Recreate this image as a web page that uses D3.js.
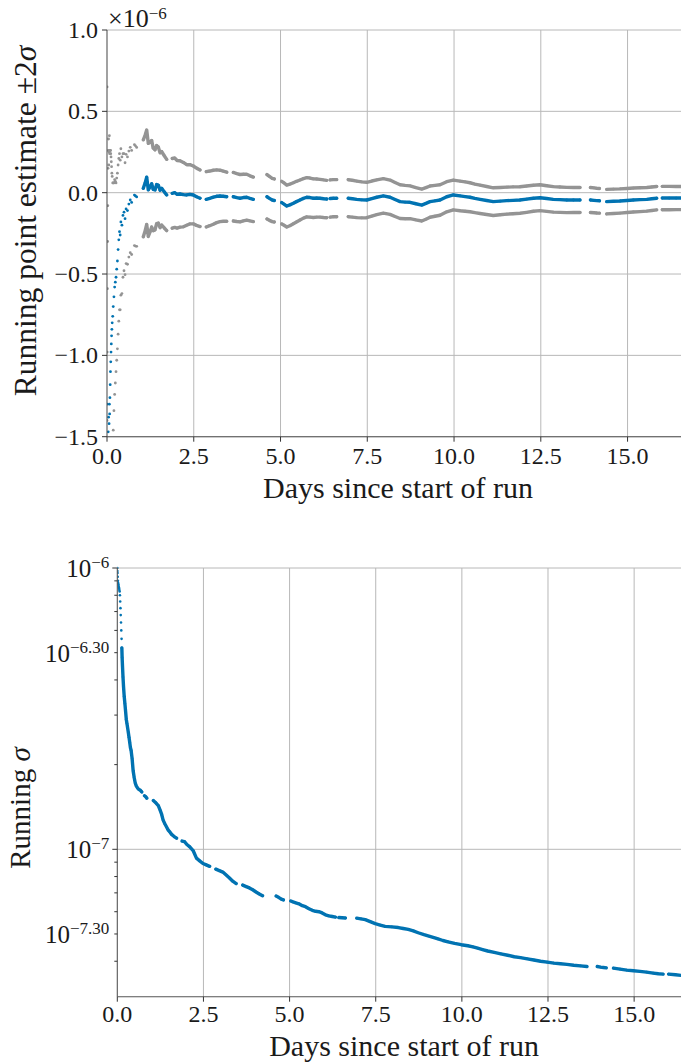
<!DOCTYPE html>
<html>
<head>
<meta charset="utf-8">
<script src="https://cdn.jsdelivr.net/npm/d3@7"></script>
<style>
  body { margin: 0; background: #fff; }
  svg { display: block; }
  text { font-family: "Liberation Serif", "DejaVu Serif", serif; fill: #1a1a1a; }
</style>
</head>
<body>
<svg id="fig" width="681" height="1064"></svg>
<script>
// Running estimate (units of 1e-6) and its running sigma (units of 1e-6)
// sampled over the run; null entries mark periods with no data.
const days = [
  0.000, 0.003, 0.006, 0.012, 0.018, 0.024, 0.030, 0.036, 0.044, 0.052,
  0.060, 0.068, 0.076, 0.084, 0.092, 0.100, 0.108, 0.116, 0.124, 0.132,
  0.140, 0.150, 0.165, 0.180, 0.200, 0.220, 0.240, 0.260, 0.280, 0.300,
  0.320, 0.340, 0.360, 0.380, 0.400, 0.430, 0.460, 0.490, 0.520, 0.550,
  0.590, 0.630, 0.670, 0.710, null,
  0.790, 0.820, 0.855, null,
  1.046, 1.100, 1.144, 1.190, 1.240, 1.288, 1.330, 1.383, 1.430, 1.478,
  1.530, 1.576, 1.650, 1.720, null,
  1.880, 1.950, 2.020, 2.104, 2.200, 2.297, 2.390, 2.487, 2.580, 2.680, null,
  2.860, 2.960, 3.063, 3.160, 3.256, 3.350, 3.450, null,
  3.640, 3.740, 3.833, 3.930, 4.026, 4.120, 4.216, null,
  4.610, 4.680, 4.760, 4.820, null,
  5.035, 5.100, 5.180, 5.270, 5.370, 5.460, 5.562, 5.660, 5.755, 5.850,
  5.945, 6.040, 6.138, 6.240, 6.330, null,
  6.430, 6.520, 6.620, null,
  6.950, 7.070, 7.196, 7.340, 7.484, 7.630, 7.772, 7.963, 8.156, 8.300,
  8.444, 8.590, 8.732, 8.900, 9.069, 9.190, 9.308, 9.450, 9.597, 9.790,
  9.980, 10.173, 10.320, 10.460, 10.600, 10.750, 10.940, 11.130, 11.330, 11.520,
  11.700, 11.900, 12.090, 12.285, 12.478, 12.670, 12.860, 13.050, 13.248, 13.440,
  13.630, null,
  13.930, 14.030, 14.110, 14.190, null,
  14.400, 14.590, 14.784, 14.980, 15.167, 15.360, 15.553, 15.700, 15.840, null,
  16.000, 16.200, 16.400, 16.600
];

const estimate = [
  -3.40, -1.30, -2.90, -2.45, -2.10, -1.85, -1.60, -1.47, -1.38, -1.52,
  -1.42, -1.30, -1.36, -1.26, -1.18, -1.10, -1.04, -0.98, -0.93, -0.88,
  -0.84, -0.80, -0.76, -0.70, -0.64, -0.58, -0.55, -0.52, -0.47, -0.42,
  -0.35, -0.29, -0.24, -0.26, -0.18, -0.20, -0.14, -0.12, -0.16, -0.10,
  -0.11, -0.07, -0.045, -0.06, null,
  -0.015, -0.020, -0.026, null,
  0.027, 0.060, 0.095, 0.017, 0.035, 0.055, 0.020, 0.017, 0.050, 0.047,
  0.015, 0.027, 0.005, -0.014, null,
  -0.004, 0.000, -0.010, -0.008, -0.012, -0.014, -0.010, -0.014, -0.025, -0.034, null,
  -0.041, -0.035, -0.028, -0.022, -0.020, -0.022, -0.025, null,
  -0.025, -0.030, -0.034, -0.030, -0.028, -0.035, -0.041, null,
  -0.025, -0.035, -0.045, -0.048, null,
  -0.061, -0.070, -0.082, -0.075, -0.065, -0.055, -0.045, -0.035, -0.028, -0.030,
  -0.034, -0.033, -0.034, -0.037, -0.039, null,
  -0.036, -0.034, -0.034, null,
  -0.034, -0.037, -0.041, -0.044, -0.045, -0.036, -0.028, -0.020, -0.028, -0.042,
  -0.055, -0.058, -0.059, -0.068, -0.076, -0.066, -0.055, -0.050, -0.045, -0.025,
  -0.014, -0.020, -0.024, -0.028, -0.035, -0.041, -0.048, -0.055, -0.052, -0.049,
  -0.047, -0.045, -0.040, -0.034, -0.031, -0.036, -0.041, -0.043, -0.045, -0.045,
  -0.045, null,
  -0.045, -0.047, -0.049, -0.050, null,
  -0.055, -0.053, -0.051, -0.048, -0.045, -0.043, -0.041, -0.037, -0.034, null,
  -0.033, -0.033, -0.033, -0.033
];

const sigma = [
  1.000, 0.975, 0.960, 0.930, 0.900, 0.885, 0.875, 0.865, 0.855, 0.845,
  0.835, 0.825, 0.800, 0.760, 0.720, 0.680, 0.640, 0.600, 0.560, 0.520,
  0.480, 0.450, 0.410, 0.380, 0.350, 0.330, 0.310, 0.290, 0.280, 0.270,
  0.260, 0.250, 0.240, 0.230, 0.225, 0.210, 0.190, 0.180, 0.172, 0.168,
  0.165, 0.163, 0.162, 0.160, null,
  0.155, 0.154, 0.152, null,
  0.149, 0.147, 0.145, 0.143, 0.138, 0.133, 0.127, 0.123, 0.120, 0.117,
  0.115, 0.113, 0.111, 0.1095, null,
  0.107, 0.1065, 0.104, 0.102, 0.099, 0.093, 0.091, 0.089, 0.088, 0.087, null,
  0.085, 0.084, 0.083, 0.081, 0.079, 0.077, 0.0755, null,
  0.0746, 0.0737, 0.0729, 0.0718, 0.0705, 0.0694, 0.0684, null,
  0.0682, 0.0675, 0.0665, 0.0661, null,
  0.0655, 0.0650, 0.0645, 0.0640, 0.0630, 0.0625, 0.0615, 0.0607, 0.0602, 0.0600,
  0.0594, 0.0585, 0.0580, 0.0577, 0.0574, null,
  0.0572, 0.0571, 0.0570, null,
  0.0569, 0.0566, 0.0562, 0.0553, 0.0544, 0.0538, 0.0532, 0.0530, 0.0527, 0.0523,
  0.0519, 0.0513, 0.0505, 0.0497, 0.0490, 0.0485, 0.0480, 0.0474, 0.0469, 0.0463,
  0.0458, 0.0454, 0.0450, 0.0445, 0.0440, 0.0435, 0.0430, 0.0425, 0.0420, 0.0415,
  0.0412, 0.0408, 0.0404, 0.0400, 0.0397, 0.0394, 0.0392, 0.0390, 0.0387, 0.0385,
  0.0383, null,
  0.0383, 0.0381, 0.0380, 0.0379, null,
  0.0378, 0.0375, 0.0372, 0.0370, 0.0368, 0.0366, 0.0363, 0.0361, 0.0360, null,
  0.0360, 0.0358, 0.0356, 0.0355
];

// Axis ticks and labels
const dayTicks = [0, 2.5, 5, 7.5, 10, 12.5, 15];
const estimateTicks = [-1.5, -1.0, -0.5, 0.0, 0.5, 1.0];
const sigmaTickValues = [1e-6, 5e-7, 1e-7, 5e-8];
const sigmaTickExponents = ["\u22126", "\u22126.30", "\u22127", "\u22127.30"];
const sigmaGridValues = [1e-6, 1e-7];
const sigmaMinorTicks = [9e-7, 8e-7, 7e-7, 6e-7, 4e-7, 3e-7, 2e-7,
                         9e-8, 8e-8, 7e-8, 6e-8, 4e-8];

const BLUE = "#0173b2", GRAY = "#949494";
const GRID = "#b8b8b8", SPINE = "#555", TICK = "#333";

const rows = days.map((t, i) => ({ t, est: estimate[i], sig: sigma[i] }));
const valid = d => d.t != null;

const svg = d3.select("#fig");
const fmt1 = d3.format(".1f");

// ---------- Upper panel: running point estimate with ±2σ band ----------
const boxA = { left: 107, right: 681, top: 30, bottom: 436.7 };
const xA = d3.scaleLinear().domain([0, 16.54]).range([boxA.left, boxA.right]);
const yA = d3.scaleLinear().domain([-1.5, 1.0]).range([boxA.bottom, boxA.top]);

const gA = svg.append("g");
gA.append("clipPath").attr("id", "clipA").append("rect")
  .attr("x", boxA.left).attr("y", boxA.top)
  .attr("width", boxA.right - boxA.left).attr("height", boxA.bottom - boxA.top);

gA.append("g").selectAll("line").data(dayTicks.slice(1)).join("line")
  .attr("x1", d => xA(d)).attr("x2", d => xA(d))
  .attr("y1", boxA.top).attr("y2", boxA.bottom)
  .attr("stroke", GRID).attr("stroke-width", 1);
gA.append("g").selectAll("line").data(estimateTicks).join("line")
  .attr("x1", boxA.left).attr("x2", boxA.right)
  .attr("y1", d => yA(d)).attr("y2", d => yA(d))
  .attr("stroke", GRID).attr("stroke-width", 1);

const dataA = gA.append("g").attr("clip-path", "url(#clipA)");
const denseFromA = 1.0;
[[+2, GRAY], [-2, GRAY], [0, BLUE]].forEach(([k, color]) => {
  const val = d => d.est + k * d.sig;
  const line = d3.line()
    .defined(d => valid(d) && d.t >= denseFromA)
    .x(d => xA(d.t)).y(d => yA(val(d)));
  dataA.append("path").datum(rows).attr("d", line)
    .attr("fill", "none").attr("stroke", color)
    .attr("stroke-width", 3.4).attr("stroke-linejoin", "round").attr("stroke-linecap", "round");
  dataA.append("g").selectAll("circle").data(rows.filter(valid)).join("circle")
    .attr("cx", d => xA(d.t)).attr("cy", d => yA(val(d)))
    .attr("r", 1.4).attr("fill", color);
});

gA.append("line").attr("x1", boxA.left).attr("x2", boxA.left)
  .attr("y1", boxA.top).attr("y2", boxA.bottom).attr("stroke", SPINE).attr("stroke-width", 1.1);
gA.append("line").attr("x1", boxA.left).attr("x2", boxA.right)
  .attr("y1", boxA.bottom).attr("y2", boxA.bottom).attr("stroke", SPINE).attr("stroke-width", 1.1);

gA.append("g").selectAll("line").data(dayTicks).join("line")
  .attr("x1", d => xA(d)).attr("x2", d => xA(d))
  .attr("y1", boxA.bottom).attr("y2", boxA.bottom + 5).attr("stroke", TICK);
gA.append("g").selectAll("text").data(dayTicks).join("text")
  .attr("x", d => xA(d)).attr("y", boxA.bottom + 27)
  .attr("text-anchor", "middle").attr("font-size", 24).text(d => fmt1(d));
gA.append("g").selectAll("line").data(estimateTicks).join("line")
  .attr("x1", boxA.left - 5).attr("x2", boxA.left)
  .attr("y1", d => yA(d)).attr("y2", d => yA(d)).attr("stroke", TICK);
gA.append("g").selectAll("text").data(estimateTicks).join("text")
  .attr("x", boxA.left - 9).attr("y", d => yA(d) + 8)
  .attr("text-anchor", "end").attr("font-size", 24).text(d => fmt1(d));

const off = gA.append("text").attr("x", 108).attr("y", 27).attr("font-size", 26);
off.append("tspan").text("\u00d710");
off.append("tspan").attr("dy", -8).attr("font-size", 17).text("\u22126");

gA.append("text").attr("x", (boxA.left + boxA.right) / 2 + 4).attr("y", 498)
  .attr("text-anchor", "middle").attr("font-size", 30).text("Days since start of run");
const ylab = gA.append("text")
  .attr("transform", "translate(36,221) rotate(-90)")
  .attr("text-anchor", "middle").attr("font-size", 31.5);
ylab.append("tspan").text("Running point estimate \u00b12");
ylab.append("tspan").attr("font-style", "italic").text("\u03c3");

// ---------- Lower panel: running sigma on a log scale ----------
const boxB = { left: 117.3, right: 681, top: 568, bottom: 996.7 };
const xB = d3.scaleLinear().domain([0, 16.36]).range([boxB.left, boxB.right]);
const yB = d3.scaleLog().domain([Math.pow(10, -7.524), 1e-6]).range([boxB.bottom, boxB.top]);

const gB = svg.append("g");
gB.append("clipPath").attr("id", "clipB").append("rect")
  .attr("x", boxB.left).attr("y", boxB.top - 3)
  .attr("width", boxB.right - boxB.left).attr("height", boxB.bottom - boxB.top + 3);

gB.append("g").selectAll("line").data(dayTicks.slice(1)).join("line")
  .attr("x1", d => xB(d)).attr("x2", d => xB(d))
  .attr("y1", boxB.top).attr("y2", boxB.bottom)
  .attr("stroke", GRID).attr("stroke-width", 1);
gB.append("g").selectAll("line").data(sigmaGridValues).join("line")
  .attr("x1", boxB.left).attr("x2", boxB.right)
  .attr("y1", d => yB(d)).attr("y2", d => yB(d))
  .attr("stroke", GRID).attr("stroke-width", 1);

const dataB = gB.append("g").attr("clip-path", "url(#clipB)");
const denseFromB = 0.13;
const sigLine = d3.line()
  .defined(d => valid(d) && d.t >= denseFromB)
  .x(d => xB(d.t)).y(d => yB(d.sig * 1e-6));
dataB.append("path").datum(rows).attr("d", sigLine)
  .attr("fill", "none").attr("stroke", BLUE)
  .attr("stroke-width", 3.4).attr("stroke-linejoin", "round").attr("stroke-linecap", "round");
dataB.append("g").selectAll("circle").data(rows.filter(valid)).join("circle")
  .attr("cx", d => xB(d.t)).attr("cy", d => yB(d.sig * 1e-6))
  .attr("r", 1.3).attr("fill", BLUE);

gB.append("line").attr("x1", boxB.left).attr("x2", boxB.left)
  .attr("y1", boxB.top).attr("y2", boxB.bottom).attr("stroke", SPINE).attr("stroke-width", 1.1);
gB.append("line").attr("x1", boxB.left).attr("x2", boxB.right)
  .attr("y1", boxB.bottom).attr("y2", boxB.bottom).attr("stroke", SPINE).attr("stroke-width", 1.1);

gB.append("g").selectAll("line").data(dayTicks).join("line")
  .attr("x1", d => xB(d)).attr("x2", d => xB(d))
  .attr("y1", boxB.bottom).attr("y2", boxB.bottom + 5).attr("stroke", TICK);
gB.append("g").selectAll("text").data(dayTicks).join("text")
  .attr("x", d => xB(d)).attr("y", boxB.bottom + 25)
  .attr("text-anchor", "middle").attr("font-size", 24).text(d => fmt1(d));

gB.append("g").selectAll("line").data(sigmaGridValues).join("line")
  .attr("x1", boxB.left - 5).attr("x2", boxB.left)
  .attr("y1", d => yB(d)).attr("y2", d => yB(d)).attr("stroke", TICK);
gB.append("g").selectAll("line").data(sigmaMinorTicks.concat([5e-7, 5e-8])).join("line")
  .attr("x1", boxB.left - 3).attr("x2", boxB.left)
  .attr("y1", d => yB(d)).attr("y2", d => yB(d)).attr("stroke", TICK);
const sigLabels = gB.append("g").selectAll("text").data(sigmaTickValues).join("text")
  .attr("x", boxB.left - 8).attr("y", d => yB(d) + 9)
  .attr("text-anchor", "end").attr("font-size", 25);
sigLabels.append("tspan").text("10");
sigLabels.append("tspan").attr("dy", -9).attr("font-size", 17)
  .text((d, i) => sigmaTickExponents[i]);

gB.append("text").attr("x", (boxB.left + boxB.right) / 2 + 5).attr("y", 1056)
  .attr("text-anchor", "middle").attr("font-size", 30).text("Days since start of run");
const ylab2 = gB.append("text")
  .attr("transform", "translate(30,808) rotate(-90)")
  .attr("text-anchor", "middle").attr("font-size", 29);
ylab2.append("tspan").text("Running ");
ylab2.append("tspan").attr("font-style", "italic").text("\u03c3");
</script>
</body>
</html>
